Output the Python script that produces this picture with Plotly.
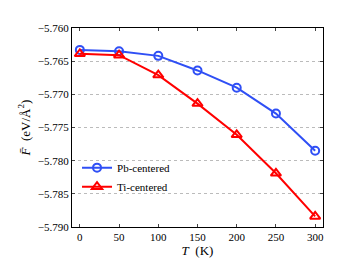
import plotly.graph_objects as go

T = [0, 50, 100, 150, 200, 250, 300]
pb_centered = [-5.7633, -5.7635, -5.7642, -5.7664, -5.7690, -5.7729, -5.7785]
ti_centered = [-5.7639, -5.7641, -5.7671, -5.7714, -5.7761, -5.7819, -5.7884]
y_ticks = [-5.760, -5.765, -5.770, -5.775, -5.780, -5.785, -5.790]
y_tick_text = ["\u22125.760", "\u22125.765", "\u22125.770", "\u22125.775", "\u22125.780", "\u22125.785", "\u22125.790"]
x_ticks = [0, 50, 100, 150, 200, 250, 300]

font_family = "Liberation Serif, DejaVu Serif, serif"

fig = go.Figure()
fig.add_trace(go.Scatter(
    x=T, y=pb_centered, mode="lines+markers", name="Pb-centered",
    line=dict(color="#2f4ff5", width=2),
    marker=dict(symbol="circle-open", size=8, color="#2f4ff5", line=dict(width=2)),
))
fig.add_trace(go.Scatter(
    x=T, y=ti_centered, mode="lines+markers", name="Ti-centered",
    line=dict(color="#ff0000", width=2),
    marker=dict(symbol="triangle-up-open", size=9, color="#ff0000", line=dict(width=2)),
))

fig.update_layout(
    width=348, height=258,
    margin=dict(l=64, r=33, t=20, b=30),
    paper_bgcolor="white", plot_bgcolor="white",
    font=dict(family=font_family, size=10, color="black"),
    showlegend=True,
    legend=dict(x=0.02, y=0.13, xanchor="left", yanchor="bottom",
                bgcolor="rgba(255,255,255,0)", font=dict(size=11, family=font_family),
                tracegroupgap=0, itemwidth=30),
    xaxis=dict(
        range=[-10, 310], tickvals=x_ticks, ticks="inside", ticklen=3,
        showline=True, linecolor="black", linewidth=1, mirror="ticks",
        showgrid=False, zeroline=False,
        title=dict(text="<i>T</i>  (K)", font=dict(size=13), standoff=2),
        tickfont=dict(size=11),
    ),
    yaxis=dict(
        range=[-5.790, -5.760], tickvals=y_ticks, ticktext=y_tick_text,
        ticks="inside", ticklen=3,
        showline=True, linecolor="black", linewidth=1, mirror="ticks",
        showgrid=True, gridcolor="#bbbbbb", griddash="dot", gridwidth=1,
        zeroline=False,
        title=dict(text="<i>F\u0304</i>  (eV/Å<sup>2</sup>)", font=dict(size=13), standoff=4),
        tickfont=dict(size=11),
    ),
)

fig.write_html("out.html")
